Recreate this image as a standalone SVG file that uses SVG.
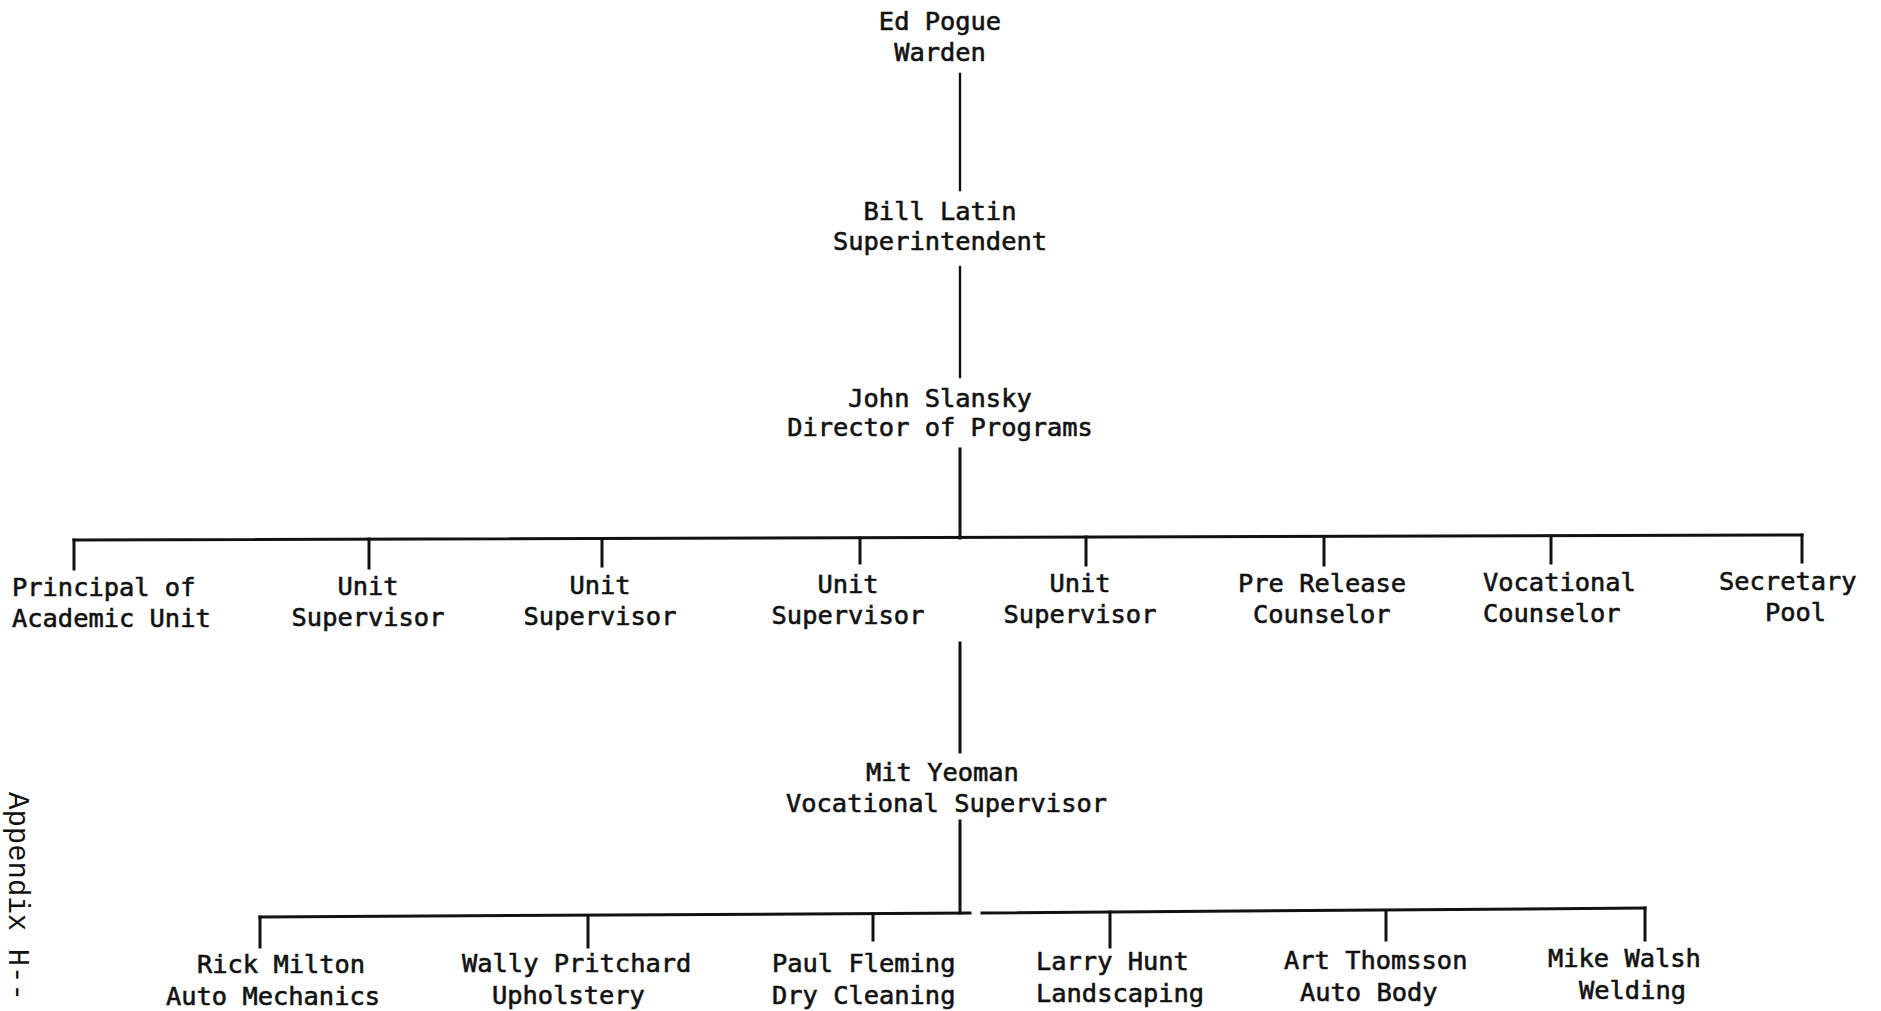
<svg xmlns="http://www.w3.org/2000/svg" width="1881" height="1011" viewBox="0 0 1881 1011">
<style>
  .t { font-family: "DejaVu Sans Mono", "Liberation Mono", monospace; font-size: 25.4px; fill: #111; stroke: #111; stroke-width: 0.6px; }
  .m { text-anchor: middle; }
  .c { stroke: #111; stroke-width: 3; fill: none; stroke-linecap: square; }
  .thin { stroke-width: 2.4; }
  .app { font-family: "Liberation Mono", "Courier New", monospace; font-size: 29px; fill: #111; }
</style>
<rect width="1881" height="1011" fill="#fff"/>
<g id="connectors">
  <path class="c thin" d="M960 74 V190"/>
  <path class="c thin" d="M960 267 V377"/>
  <path class="c" d="M960 449 V538"/>
  <path class="c" d="M74 540 L1802 535"/>
  <path class="c" d="M74 540 V569 M369 539 V568 M602 539 V566 M860 538 V563 M1086 537 V565 M1324 537 V565 M1551 536 V563 M1802 535 V562"/>
  <path class="c" d="M960 643 V752"/>
  <path class="c" d="M960 821 V913"/>
  <path class="c" d="M260 917 L970 913"/>
  <path class="c" d="M982 913 L1645 908"/>
  <path class="c" d="M260 917 V947 M588 916 V947 M873 914 V940 M1110 912 V947 M1386 911 V940 M1645 908 V940"/>
</g>
<g id="warden" class="t m">
  <text x="940" y="30">Ed Pogue</text>
  <text x="940" y="61">Warden</text>
</g>
<g id="superintendent" class="t m">
  <text x="940" y="220">Bill Latin</text>
  <text x="940" y="250">Superintendent</text>
</g>
<g id="director" class="t m">
  <text x="940" y="407">John Slansky</text>
  <text x="940" y="436">Director of Programs</text>
</g>
<g id="principal" class="t">
  <text x="12" y="596">Principal of</text>
  <text x="12" y="627">Academic Unit</text>
</g>
<g id="unit-supervisor-1" class="t m">
  <text x="368" y="595">Unit</text>
  <text x="368" y="626">Supervisor</text>
</g>
<g id="unit-supervisor-2" class="t m">
  <text x="600" y="594">Unit</text>
  <text x="600" y="625">Supervisor</text>
</g>
<g id="unit-supervisor-3" class="t m">
  <text x="848" y="593">Unit</text>
  <text x="848" y="624">Supervisor</text>
</g>
<g id="unit-supervisor-4" class="t m">
  <text x="1080" y="592">Unit</text>
  <text x="1080" y="623">Supervisor</text>
</g>
<g id="pre-release-counselor" class="t">
  <text x="1238" y="592">Pre Release</text>
  <text x="1253" y="623">Counselor</text>
</g>
<g id="vocational-counselor" class="t">
  <text x="1483" y="591">Vocational</text>
  <text x="1483" y="622">Counselor</text>
</g>
<g id="secretary-pool" class="t">
  <text x="1719" y="590">Secretary</text>
  <text x="1765" y="621">Pool</text>
</g>
<g id="vocational-supervisor" class="t">
  <text x="866" y="781">Mit Yeoman</text>
  <text x="786" y="812">Vocational Supervisor</text>
</g>
<g id="auto-mechanics" class="t">
  <text x="197" y="973">Rick Milton</text>
  <text x="166" y="1005">Auto Mechanics</text>
</g>
<g id="upholstery" class="t">
  <text x="462" y="972">Wally Pritchard</text>
  <text x="492" y="1004">Upholstery</text>
</g>
<g id="dry-cleaning" class="t">
  <text x="772" y="972">Paul Fleming</text>
  <text x="772" y="1004">Dry Cleaning</text>
</g>
<g id="landscaping" class="t">
  <text x="1036" y="970">Larry Hunt</text>
  <text x="1036" y="1002">Landscaping</text>
</g>
<g id="auto-body" class="t">
  <text x="1284" y="969">Art Thomsson</text>
  <text x="1300" y="1001">Auto Body</text>
</g>
<g id="welding" class="t">
  <text x="1548" y="967">Mike Walsh</text>
  <text x="1579" y="999">Welding</text>
</g>
<text class="app" transform="translate(9,792) rotate(90)">Appendix H--</text>
</svg>
